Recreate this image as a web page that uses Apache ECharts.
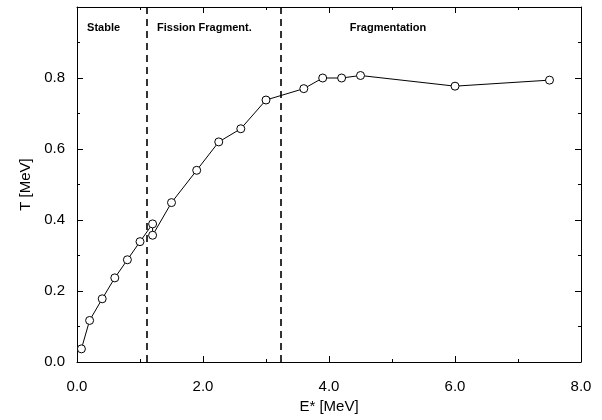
<!DOCTYPE html>
<html><head><meta charset="utf-8">
<script src="https://cdn.jsdelivr.net/npm/echarts@6/dist/echarts.min.js"></script>
<style>html,body{margin:0;padding:0;background:#fff}#c{width:602px;height:420px}</style>
</head><body>
<div id="c"></div>
<script>
// excitation energy E* [MeV] and temperature T [MeV]
var eStar = [0.07, 0.2, 0.4, 0.6, 0.8, 1.0, 1.2, 1.2, 1.5, 1.9, 2.25, 2.6, 3.0, 3.6, 3.9, 4.2, 4.5, 6.0, 7.5];
var temp  = [0.037, 0.117, 0.178, 0.237, 0.288, 0.339, 0.389, 0.357, 0.449, 0.54, 0.62, 0.657, 0.738, 0.77, 0.80, 0.80, 0.807, 0.777, 0.794];
// phase boundaries
var boundaries = [1.1, 3.24];
var regionNames = ['Stable', 'Fission Fragment.', 'Fragmentation'];

var font = 'Liberation Sans, Arial, sans-serif';
var pts = eStar.map(function (x, i) { return [x, temp[i]]; });

var chart = echarts.init(document.getElementById('c'));

function axisBase(show) {
  return {
    axisLine: { show: true, onZero: false, lineStyle: { color: '#000', width: 1 } },
    axisTick: { show: true, inside: true, length: 6, lineStyle: { color: '#000' } },
    minorTick: { show: true, splitNumber: 2, length: 3, lineStyle: { color: '#000' } },
    splitLine: { show: false },
    axisLabel: { show: show, color: '#000', fontFamily: font, fontSize: 15 }
  };
}

var xMain = Object.assign(axisBase(true), {
  type: 'value', min: 0, max: 8, interval: 2, position: 'bottom',
  name: 'E* [MeV]', nameLocation: 'middle', nameGap: 34,
  nameTextStyle: { color: '#000', fontFamily: font, fontSize: 15 }
});
xMain.axisLabel.formatter = function (v) { return v.toFixed(1); };
xMain.axisLabel.margin = 17;
var xTop = Object.assign(axisBase(false), { type: 'value', min: 0, max: 8, interval: 2, position: 'top' });

var yMain = Object.assign(axisBase(true), {
  type: 'value', min: 0, max: 1.0, interval: 0.2, position: 'left',
  name: 'T [MeV]', nameLocation: 'middle', nameGap: 37, nameRotate: 90,
  nameTextStyle: { color: '#000', fontFamily: font, fontSize: 15 }
});
yMain.axisLabel.formatter = function (v) { return v >= 0.99 ? '' : v.toFixed(1); };
yMain.axisLabel.margin = 12;
var yRight = Object.assign(axisBase(false), { type: 'value', min: 0, max: 1.0, interval: 0.2, position: 'right' });

chart.setOption({
  animation: false,
  backgroundColor: '#fff',
  grid: { left: 77, right: 21, top: 7, bottom: 58 },
  xAxis: [xMain, xTop],
  yAxis: [yMain, yRight],
  series: [{
    type: 'line',
    data: pts,
    symbol: 'circle',
    symbolSize: 8,
    lineStyle: { color: '#000', width: 1 },
    itemStyle: { color: '#fff', borderColor: '#000', borderWidth: 1 },
    markLine: {
      silent: true,
      symbol: 'none',
      label: { show: false },
      lineStyle: { color: '#000', type: [7, 5], width: 1.6 },
      data: boundaries.map(function (b) { return { xAxis: b }; })
    }
  }]
});

// region labels placed along the top of the plot
var labelX = [0.16, 1.27, 4.33];
chart.setOption({
  graphic: regionNames.map(function (t, i) {
    var p = chart.convertToPixel({ xAxisIndex: 0, yAxisIndex: 0 }, [labelX[i], 0.94]);
    return {
      type: 'text', x: p[0], y: p[1],
      style: { text: t, fill: '#000', font: 'bold 11px ' + font, textVerticalAlign: 'middle' }
    };
  })
});
</script>
</body></html>
